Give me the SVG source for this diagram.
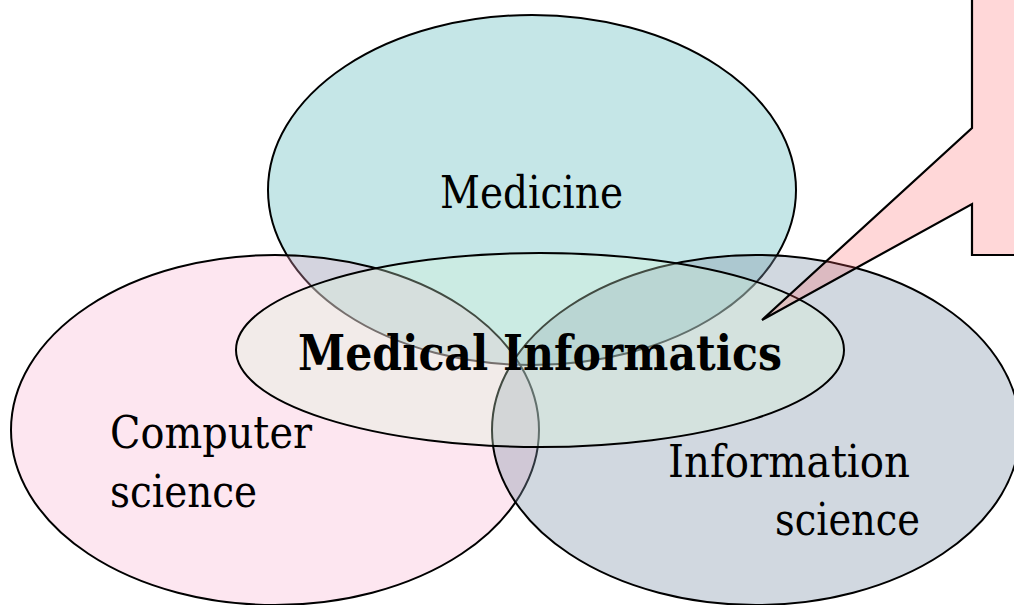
<svg xmlns="http://www.w3.org/2000/svg" width="1014" height="605" viewBox="0 0 1014 605">
  <style>
    .area { stroke: #000; stroke-width: 2; }
    .label { font-family: "DejaVu Serif", "Liberation Serif", serif; font-size: 45px; fill: #000; }
    .title { font-family: "DejaVu Serif", "Liberation Serif", serif; font-size: 49px; font-weight: bold; fill: #000; }
  </style>
  <rect width="1014" height="605" fill="#fff"/>

  <!-- Medicine -->
  <g id="medicine">
    <ellipse class="area" cx="532" cy="190" rx="264" ry="175" fill="#c5e6e7"/>
    <text class="label" x="440" y="208" textLength="183" lengthAdjust="spacingAndGlyphs">Medicine</text>
  </g>

  <!-- Computer science -->
  <g id="computer-science">
    <ellipse class="area" cx="275" cy="430" rx="264" ry="175" fill="#f8accd" fill-opacity="0.3"/>
    <text class="label" x="110" y="448" textLength="202" lengthAdjust="spacingAndGlyphs">Computer</text>
    <text class="label" x="110" y="507" textLength="147" lengthAdjust="spacingAndGlyphs">science</text>
  </g>

  <!-- Information science -->
  <g id="information-science">
    <ellipse class="area" cx="756" cy="430" rx="264" ry="175" fill="#7f93aa" fill-opacity="0.36"/>
    <text class="label" x="668" y="477" textLength="242" lengthAdjust="spacingAndGlyphs">Information</text>
    <text class="label" x="775" y="535" textLength="145" lengthAdjust="spacingAndGlyphs">science</text>
  </g>

  <!-- Medical Informatics -->
  <g id="medical-informatics">
    <ellipse class="area" cx="540" cy="350" rx="304" ry="97" fill="#dcfadc" fill-opacity="0.3"/>
    <text class="title" x="298" y="370" textLength="484" lengthAdjust="spacingAndGlyphs">Medical Informatics</text>
  </g>

  <!-- Callout pointing into the centre -->
  <g id="connectors">
    <path d="M972,-5 L972,128 L762,320 L972,204 L972,255 L1022,255 L1022,-5 Z" fill="#ff6064" fill-opacity="0.25" stroke="#000" stroke-width="2.2" stroke-linejoin="miter"/>
  </g>
</svg>
